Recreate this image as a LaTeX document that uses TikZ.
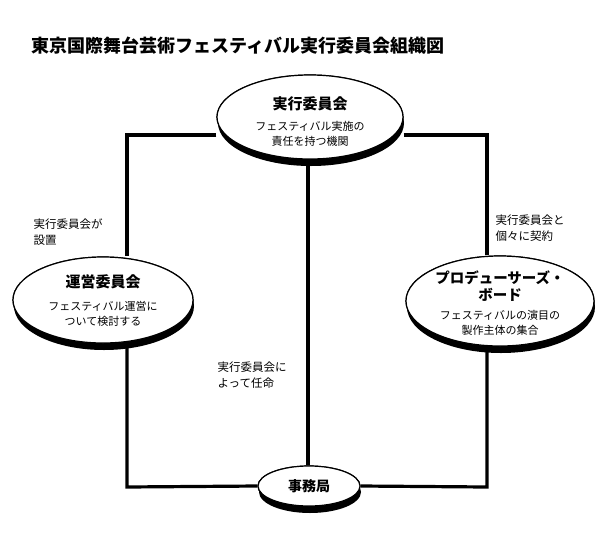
\documentclass[tikz,border=0pt]{standalone}
\usepackage{fontspec}
\setmainfont{Noto Sans CJK JP}
\usetikzlibrary{shapes.geometric}
\begin{document}
\begin{tikzpicture}[x=1pt,y=-1pt,
  org/.style={ellipse,draw,line width=1.2pt,fill=white,inner sep=0pt,align=center},
  shad/.style={ellipse,fill=black,inner sep=0pt},
  wire/.style={line width=3.2pt},
  nm/.style={align=center,font=\fontsize{15}{18}\selectfont\bfseries},
  ds/.style={align=center,font=\fontsize{11}{15}\selectfont},
  lbl/.style={font=\fontsize{11.5}{16}\selectfont,align=left,anchor=north west}]
\useasboundingbox (0,0) rectangle (600,547);
\node[anchor=west,font=\fontsize{18}{20}\selectfont\bfseries] (title) at (28,46) {東京国際舞台芸術フェスティバル実行委員会組織図};
% ellipses (for anchors)
\node[org,minimum width=186,minimum height=84] (top) at (310,117) {};
\node[org,minimum width=180,minimum height=86] (left) at (103,300) {};
\node[org,minimum width=188,minimum height=90] (right) at (500,301) {};
\node[org,minimum width=102,minimum height=40] (bot) at (309,486) {};
% connectors
\coordinate (tl) at (127,135); \coordinate (tr) at (487,135);
\coordinate (bl) at (127,487); \coordinate (br) at (487,487);
\draw[wire] (top.west|-tl) -- (tl) -- (tl|-left.north);
\draw[wire] (tl|-left.south) -- (bl) -- (bot.west);
\draw[wire] (top.east|-tr) -- (tr) -- (tr|-right.north);
\draw[wire] (tr|-right.south) -- (br) -- (bot.east);
\draw[wire] ([xshift=-2pt]top.south) -- ([xshift=-1pt]bot.north);
% ellipses with shadows over lines
\node[shad,minimum width=186,minimum height=86] (s1) at (311,123) {};
\node[org,minimum width=186,minimum height=84] at (310,117) {};
\node[shad,minimum width=180,minimum height=88] (s2) at (104,306) {};
\node[org,minimum width=180,minimum height=86] at (103,300) {};
\node[shad,minimum width=188,minimum height=92] (s3) at (501,307) {};
\node[org,minimum width=188,minimum height=90] at (500,301) {};
\node[shad,minimum width=102,minimum height=42] (s4) at (310,492) {};
\node[org,minimum width=102,minimum height=40] at (309,486) {};
% texts
\node[nm] (tn) at (310,104) {実行委員会};
\node[ds] (td) at (310,134) {フェスティバル実施の\\責任を持つ機関};
\node[nm] (ln) at (103,282) {運営委員会};
\node[ds] (ld) at (103,314) {フェスティバル運営に\\ついて検討する};
\node[nm,font=\fontsize{14.5}{17}\selectfont\bfseries] (rn) at (500,286) {プロデューサーズ・\\ボード};
\node[ds] (rd) at (500,323) {フェスティバルの演目の\\製作主体の集合};
\node[font=\fontsize{14}{16}\selectfont\bfseries] (btx) at (309,486) {事務局};
\node[lbl] (l1) at (30,215) {実行委員会が\\設置};
\node[lbl] (l2) at (492,211) {実行委員会と\\個々に契約};
\node[lbl] (l3) at (214,358) {実行委員会に\\よって任命};
\end{tikzpicture}
\end{document}
